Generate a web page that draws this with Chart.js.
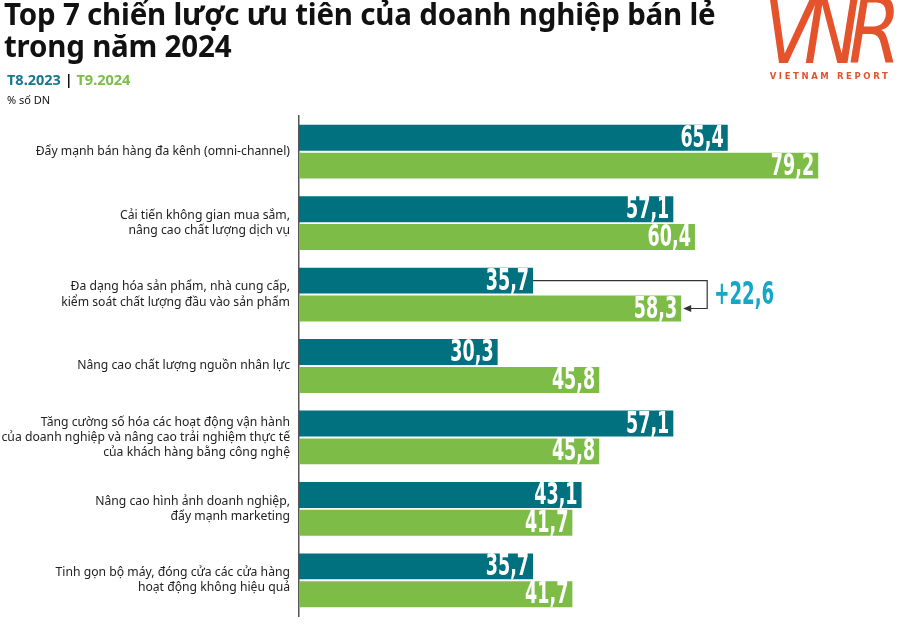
<!DOCTYPE html>
<html lang="vi">
<head>
<meta charset="utf-8">
<title>Top 7 chiến lược ưu tiên của doanh nghiệp bán lẻ</title>
<script src="https://cdn.jsdelivr.net/npm/chart.js@4.4.1/dist/chart.umd.min.js"></script>
<style>
  html, body { margin: 0; padding: 0; background: #fff; }
  #wrap { position: relative; width: 900px; height: 637px; overflow: hidden; font-family: "Noto Sans", sans-serif; }
  #chart { position: absolute; left: 0; top: 0; }
  .title { position: absolute; left: 4px; top: -2px; font-size: 29.5px; font-weight: 700; line-height: 32px; color: #111; letter-spacing: -0.2px; }
  .legend { position: absolute; left: 7px; top: 69px; font-size: 14.5px; font-weight: 700; }
  .legend .a { color: #137a8c; }
  .legend .b { color: #7cbd45; }
  .legend .sep { color: #111; }
  .unit { position: absolute; left: 7px; top: 92px; font-size: 11px; color: #111; }
  .logo { position: absolute; left: 760px; top: -10px; width: 140px; text-align: center; color: #e4532c; }
  .logo .vnr { font-family: "DejaVu Sans", sans-serif; font-style: italic; font-size: 92px; letter-spacing: -14px; font-weight: 400; line-height: 84px; transform: scaleX(0.82); transform-origin: 50% 50%; margin-left: -10px; }
  .logo .sub { font-family: "DejaVu Sans", sans-serif; font-size: 8.5px; font-weight: 700; letter-spacing: 2.6px; margin-top: -3px; }
</style>
</head>
<body>
<div id="wrap">
  <canvas id="chart" width="900" height="637"></canvas>
  <div class="title">Top 7 chiến lược ưu tiên của doanh nghiệp bán lẻ<br>trong năm 2024</div>
  <div class="legend"><span class="a">T8.2023</span> <span class="sep">|</span> <span class="b">T9.2024</span></div>
  <div class="unit">% số DN</div>
  <div class="logo"><div class="vnr">VNR</div><div class="sub">VIETNAM REPORT</div></div>
</div>
<script>
// nhãn các chiến lược (mỗi phần tử là các dòng)
const categories = [
    ['Đẩy mạnh bán hàng đa kênh (omni-channel)'],
    ['Cải tiến không gian mua sắm,', 'nâng cao chất lượng dịch vụ'],
    ['Đa dạng hóa sản phẩm, nhà cung cấp,', 'kiểm soát chất lượng đầu vào sản phẩm'],
    ['Nâng cao chất lượng nguồn nhân lực'],
    ['Tăng cường số hóa các hoạt động vận hành', 'của doanh nghiệp và nâng cao trải nghiệm thực tế', 'của khách hàng bằng công nghệ'],
    ['Nâng cao hình ảnh doanh nghiệp,', 'đẩy mạnh marketing'],
    ['Tinh gọn bộ máy, đóng cửa các cửa hàng', 'hoạt động không hiệu quả']
];
const seriesNames = ['T8.2023', 'T9.2024'];
const valuesT82023 = [65.4, 57.1, 35.7, 30.3, 57.1, 43.1, 35.7];
const valuesT92024 = [79.2, 60.4, 58.3, 45.8, 45.8, 41.7, 41.7];
// chú thích mũi tên cho nhóm thứ 3
const highlightIndex = 2;

const tealColor = '#01707f';
const greenColor = '#7dbd47';
const numFont = 'bold 31px "DejaVu Sans Condensed", "DejaVu Sans", sans-serif';

function fmt(v) {
    return v.toFixed(1).replace('.', ',');
}

// vẽ số liệu trên đầu thanh
const valueLabels = {
    id: 'valueLabels',
    afterDatasetsDraw(chart) {
        let ctx = chart.ctx;
        ctx.save();
        ctx.fillStyle = '#fff';
        ctx.textAlign = 'right';
        ctx.textBaseline = 'middle';
        ctx.font = numFont;
        chart.data.datasets.forEach(function(ds, di) {
            chart.getDatasetMeta(di).data.forEach(function(bar, i) {
                ctx.save();
                ctx.translate(bar.x - 4, bar.y + 1);
                ctx.scale(0.63, 1);
                ctx.fillText(fmt(ds.data[i]), 0, 0);
                ctx.restore();
            });
        });
        ctx.restore();
    }
};

// mũi tên chênh lệch
const diffArrow = {
    id: 'diffArrow',
    afterDatasetsDraw(chart) {
        let ctx = chart.ctx;
        let a = chart.getDatasetMeta(0).data[highlightIndex];
        let b = chart.getDatasetMeta(1).data[highlightIndex];
        let xr = b.x + 26;
        ctx.save();
        ctx.strokeStyle = '#333';
        ctx.lineWidth = 1.2;
        ctx.beginPath();
        ctx.moveTo(a.x, a.y);
        ctx.lineTo(xr, a.y);
        ctx.lineTo(xr, b.y);
        ctx.lineTo(b.x + 6, b.y);
        ctx.stroke();
        ctx.fillStyle = '#333';
        ctx.beginPath();
        ctx.moveTo(b.x + 2, b.y);
        ctx.lineTo(b.x + 10, b.y - 3.5);
        ctx.lineTo(b.x + 10, b.y + 3.5);
        ctx.closePath();
        ctx.fill();
        let diff = valuesT92024[highlightIndex] - valuesT82023[highlightIndex];
        ctx.fillStyle = '#16a6c6';
        ctx.textAlign = 'left';
        ctx.textBaseline = 'middle';
        ctx.translate(xr + 7, (a.y + b.y) / 2 + 1);
        ctx.scale(0.63, 1);
        ctx.font = 'bold 32px "DejaVu Sans Condensed", "DejaVu Sans", sans-serif';
        ctx.fillText('+' + fmt(diff), 0, 0);
        ctx.restore();
    }
};

new Chart(document.getElementById('chart'), {
    type: 'bar',
    data: {
        labels: categories,
        datasets: [{
            label: seriesNames[0],
            data: valuesT82023,
            backgroundColor: tealColor,
            categoryPercentage: 0.78,
            barPercentage: 0.93
        }, {
            label: seriesNames[1],
            data: valuesT92024,
            backgroundColor: greenColor,
            categoryPercentage: 0.78,
            barPercentage: 0.93
        }]
    },
    options: {
        indexAxis: 'y',
        responsive: false,
        animation: false,
        layout: { padding: { left: 0, right: 11, top: 116, bottom: 21 } },
        plugins: {
            legend: { display: false },
            tooltip: { enabled: false }
        },
        scales: {
            x: {
                display: false,
                min: 0,
                max: 90
            },
            y: {
                afterFit: function(scale) { scale.width = 299; },
                grid: { display: false, drawTicks: false },
                border: { display: true, color: '#555', width: 1.5 },
                ticks: {
                    color: '#222',
                    padding: 9,
                    font: { family: '"Noto Sans", sans-serif', size: 12.2, lineHeight: 1.25 }
                }
            }
        }
    },
    plugins: [valueLabels, diffArrow]
});
</script>
</body>
</html>
